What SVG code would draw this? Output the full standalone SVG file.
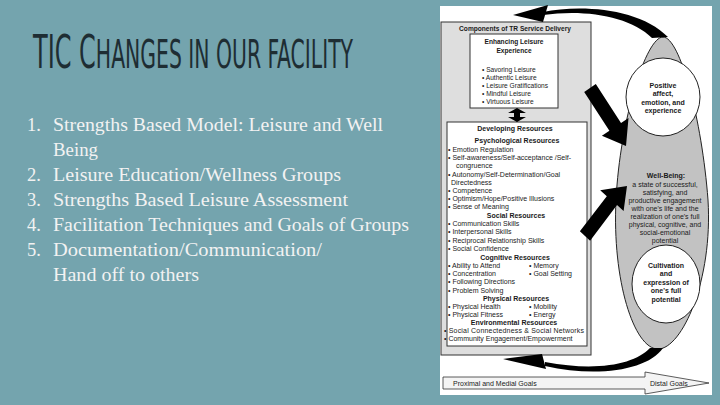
<svg xmlns="http://www.w3.org/2000/svg" width="720" height="405" viewBox="0 0 720 405">
<style>
.t{font-family:"Liberation Sans",Arial,sans-serif;font-size:7px;fill:#1a1a1a}
.s{font-size:6.6px}
.b{font-weight:bold}
.c{text-anchor:middle}
.li{font-family:"Liberation Serif","Times New Roman",serif;font-size:18.5px;fill:#f2f2f2}
.box{stroke:#333;stroke-width:1}
</style>
<rect width="720" height="405" fill="#74A4AE"/>
<text x="33" y="68" font-family="'DejaVu Sans Condensed','DejaVu Sans',sans-serif" fill="#1e2d33" textLength="320" lengthAdjust="spacingAndGlyphs"><tspan font-size="46">TIC C</tspan><tspan font-size="39">HANGES IN OUR FACILITY</tspan></text>
<g id="list">
<text class="li" x="27" y="131">1.</text><text class="li" x="53" y="131" textLength="330" lengthAdjust="spacingAndGlyphs">Strengths Based Model: Leisure and Well</text>
<text class="li" x="53" y="156" textLength="45" lengthAdjust="spacingAndGlyphs">Being</text>
<text class="li" x="27" y="181">2.</text><text class="li" x="53" y="181" textLength="288" lengthAdjust="spacingAndGlyphs">Leisure Education/Wellness Groups</text>
<text class="li" x="27" y="206">3.</text><text class="li" x="53" y="206" textLength="295" lengthAdjust="spacingAndGlyphs">Strengths Based Leisure Assessment</text>
<text class="li" x="27" y="231">4.</text><text class="li" x="53" y="231" textLength="356" lengthAdjust="spacingAndGlyphs">Facilitation Techniques and Goals of Groups</text>
<text class="li" x="27" y="256">5.</text><text class="li" x="53" y="256" textLength="269" lengthAdjust="spacingAndGlyphs">Documentation/Communication/</text>
<text class="li" x="53" y="281" textLength="146" lengthAdjust="spacingAndGlyphs">Hand off to others</text>
</g>
<rect x="440" y="6" width="272" height="389" fill="#fff"/>
<g id="components">
<rect class="box" x="441" y="22" width="150" height="333" fill="#dedede"/>
<text class="t b c s" x="515" y="30.5">Components of TR Service Delivery</text>
</g>
<g id="enhancing">
<rect class="box" x="470" y="34" width="88" height="74" fill="#fff"/>
<text class="t b c s" x="514" y="44">Enhancing Leisure</text>
<text class="t b c s" x="514" y="53">Experience</text>
<text class="t s" x="482" y="71.5">• Savoring Leisure</text>
<text class="t s" x="482" y="79.5">• Authentic Leisure</text>
<text class="t s" x="482" y="87.5">• Leisure Gratifications</text>
<text class="t s" x="482" y="95.5">• Mindful Leisure</text>
<text class="t s" x="482" y="103.5">• Virtuous Leisure</text>
</g>
<g id="developing">
<rect class="box" x="447" y="122" width="140" height="224" fill="#fff"/>
<text class="t b c" x="515" y="131">Developing Resources</text>
<text class="t b c" x="517" y="143">Psychological Resources</text>
<text class="t" x="448" y="152">• Emotion Regulation</text>
<text class="t" x="448" y="160">• Self-awareness/Self-acceptance /Self-</text>
<text class="t" x="456" y="168">congruence</text>
<text class="t" x="448" y="176.5">• Autonomy/Self-Determination/Goal</text>
<text class="t" x="451" y="184.5">Directedness</text>
<text class="t" x="448" y="193">• Competence</text>
<text class="t" x="448" y="201">• Optimism/Hope/Positive Illusions</text>
<text class="t" x="448" y="209">• Sense of Meaning</text>
<text class="t b c" x="516" y="218">Social Resources</text>
<text class="t" x="448" y="226">• Communication Skills</text>
<text class="t" x="448" y="234">• Interpersonal Skills</text>
<text class="t" x="448" y="243">• Reciprocal Relationship Skills</text>
<text class="t" x="448" y="251">• Social Confidence</text>
<text class="t b c" x="515" y="259.5">Cognitive Resources</text>
<text class="t" x="448" y="268">• Ability to Attend</text><text class="t" x="529" y="268">• Memory</text>
<text class="t" x="448" y="276">• Concentration</text><text class="t" x="529" y="276">• Goal Setting</text>
<text class="t" x="448" y="284">• Following Directions</text>
<text class="t" x="448" y="292.5">• Problem Solving</text>
<text class="t b c" x="516" y="300.5">Physical Resources</text>
<text class="t" x="448" y="309">• Physical Health</text><text class="t" x="529" y="309">• Mobility</text>
<text class="t" x="448" y="317">• Physical Fitness</text><text class="t" x="529" y="317">• Energy</text>
<text class="t b c" x="514" y="325">Environmental Resources</text>
<text class="t" x="444" y="333" textLength="140">• Social Connectedness &amp; Social Networks</text>
<text class="t" x="444" y="341">• Community Engagement/Empowerment</text>
</g>
<g id="wellbeing">
<path d="M663,37 C680,37 702,120 708,200 C713,280 682,349 658,349 C634,349 612,280 616,200 C620,120 646,37 663,37 Z" fill="#c2c2c2" stroke="#222" stroke-width="1"/>
<text class="t b c" x="666" y="178" font-size="8.5">Well-Being:</text>
<text class="t c" x="665" y="187">a state of successful,</text>
<text class="t c" x="665" y="195">satisfying, and</text>
<text class="t c" x="665" y="203">productive engagement</text>
<text class="t c" x="665" y="211">with one's life and the</text>
<text class="t c" x="665" y="219">realization of one's full</text>
<text class="t c" x="665" y="227">physical, cognitive, and</text>
<text class="t c" x="665" y="235">social-emotional</text>
<text class="t c" x="665" y="243">potential</text>
</g>
<g id="positive">
<ellipse cx="663" cy="97" rx="37" ry="39" fill="#fff" stroke="#222" stroke-width="1"/>
<text class="t b c" x="663" y="88">Positive</text>
<text class="t b c" x="663" y="96">affect,</text>
<text class="t b c" x="663" y="105">emotion, and</text>
<text class="t b c" x="663" y="113">experience</text>
</g>
<g id="cultivation">
<ellipse cx="666" cy="284" rx="34" ry="39" fill="#fff" stroke="#222" stroke-width="1"/>
<text class="t b c" x="666" y="268">Cultivation</text>
<text class="t b c" x="666" y="276">and</text>
<text class="t b c" x="666" y="285">expression of</text>
<text class="t b c" x="666" y="293">one's full</text>
<text class="t b c" x="666" y="302">potential</text>
</g>
<g id="goals">
<path d="M443,377 H645 V372 L709,383 L645,394 V389 H443 Z" fill="#f4f4f4" stroke="#333" stroke-width="0.8"/>
<text class="t" x="453" y="386">Proximal and Medial Goals</text>
<text class="t" x="650" y="386">Distal Goals</text>
</g>
<g id="connectors" fill="#000">
<path d="M543,12 C580,4 640,8 668,37 L652,38 C630,16 585,9 543,15 Z"/>
<path d="M513,15 L548,5 L543,22 Z"/>
<path d="M663,348 C648,370 598,378 545,366 L545,362 C598,372 635,364 650,348 Z"/>
<path d="M503,359 L542,354 L546,369 Z"/>
<polygon points="595.8,84.1 621,123 628.5,118 626,146 601.9,135.7 609.4,130.8 584.2,91.9"/>
<polygon points="590.1,240.8 617,205 623.6,211 627,186 600.2,190.2 606.8,196.3 579.9,231.2"/>
<polygon points="517,108 526,113 520,113 520,117 526,117 517,122 508,117 514,117 514,113 508,113"/>
</g>
</svg>
